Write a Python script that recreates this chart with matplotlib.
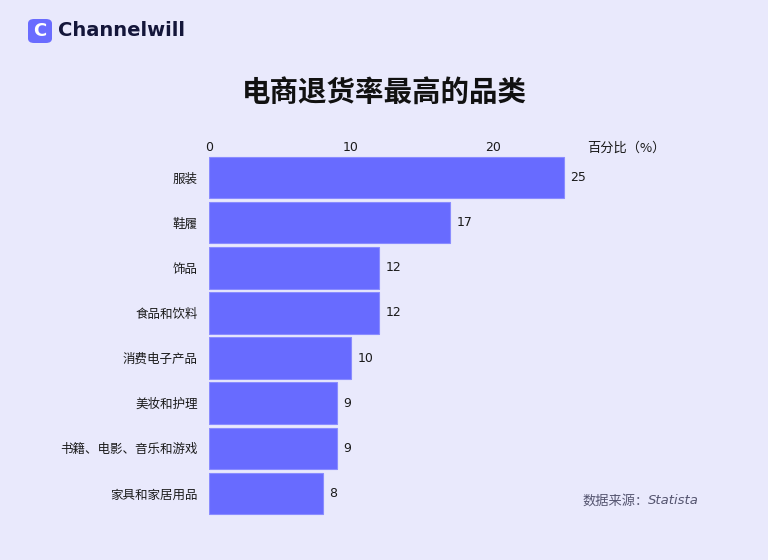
import matplotlib
matplotlib.use("Agg")
import matplotlib.pyplot as plt
from matplotlib.patches import FancyBboxPatch

plt.rcParams["font.family"] = ["Noto Sans CJK SC", "DejaVu Sans"]

categories = ["服装", "鞋履", "饰品", "食品和饮料", "消费电子产品",
              "美妆和护理", "书籍、电影、音乐和游戏", "家具和家居用品"]
values = [25, 17, 12, 12, 10, 9, 9, 8]
xticks = [0, 10, 20]

BG = "#E9E9FC"
BAR = "#686BFF"
TEXT = "#1a1a1a"

fig = plt.figure(figsize=(7.68, 5.6), dpi=100, facecolor=BG)

# axes: x=0 at 209px, 14.2px per unit
ax = fig.add_axes([209 / 768, 1 - 516 / 560, 30 * 14.2 / 768, (516 - 155) / 560])
ax.set_facecolor(BG)
y = list(range(len(categories)))
ax.barh(y, values, height=0.92, color=BAR, edgecolor="#8A8CFF", linewidth=0.8)
ax.set_ylim(len(categories) - 0.5, -0.5)
ax.set_xlim(0, 30)
ax.set_yticks(y)
ax.set_yticklabels(categories, fontsize=9, color=TEXT)
ax.set_xticks(xticks)
ax.set_xticklabels([str(t) for t in xticks], fontsize=9, color=TEXT,
                   family="DejaVu Sans")
ax.xaxis.tick_top()
ax.tick_params(length=0, pad=1)
ax.tick_params(axis="y", pad=8)
for sp in ax.spines.values():
    sp.set_visible(False)

for yi, v in zip(y, values):
    ax.annotate(str(v), (v, yi), xytext=(4.5, 0), textcoords="offset points",
                va="center", ha="left", fontsize=9, color=TEXT,
                family="DejaVu Sans")

fig.text(587 / 768, 1 - 148 / 560, "百分比（%）", fontsize=9.5, color=TEXT,
         ha="left", va="center")

# title
fig.text(0.5, 1 - 93 / 560, "电商退货率最高的品类", fontsize=20.5, fontweight="bold",
         color="#111111", ha="center", va="center")

# logo
logo = FancyBboxPatch((28 / 768, 1 - 43 / 560), 24 / 768, 24 / 560,
                      boxstyle="round,pad=0,rounding_size=0.008",
                      transform=fig.transFigure, facecolor="#6A6CFF",
                      edgecolor="none")
fig.patches.append(logo)
fig.text(40 / 768, 1 - 31 / 560, "C", fontsize=13, fontweight="bold",
         color="white", ha="center", va="center", family="DejaVu Sans")
fig.text(58 / 768, 1 - 31 / 560, "Channelwill", fontsize=14, fontweight="bold",
         color="#14163a", ha="left", va="center", family="DejaVu Sans")

# source
fig.text(582 / 768, 1 - 501 / 560, "数据来源：", fontsize=9.5,
         color="#555570", ha="left", va="center")
fig.text(648 / 768, 1 - 501 / 560, "Statista", fontsize=9.5,
         style="italic", color="#555570", ha="left", va="center",
         family="DejaVu Sans")

fig.savefig("out.png", dpi=100, facecolor=BG)
